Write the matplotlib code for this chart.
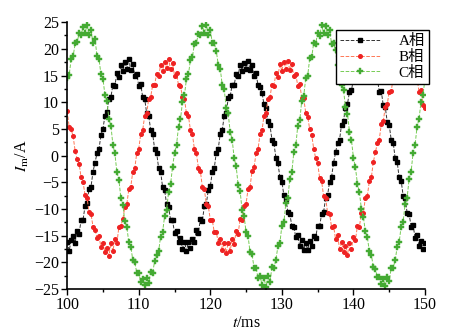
import numpy as np
import matplotlib.pyplot as plt
from matplotlib.ticker import MultipleLocator

plt.rcParams['font.family'] = ['Liberation Serif', 'Noto Sans CJK SC']
plt.rcParams['mathtext.fontset'] = 'stix'

# 采样时刻 (ms), 181 点
t = 100 + np.arange(181) * (50 / 180)

# A相电流 (A)
ia = [-16.2, -17.8, -15.9, -15.1, -16.3, -14.1, -14.6, -12.1, -12.0, -9.4, -8.9, -6.2, -5.8, -3.0, -1.3,
      0.4, 1.2, 3.9, 5.0, 7.5, 8.1, 10.6, 11.0, 13.2, 13.1, 15.4, 14.8, 16.9, 15.8, 17.6,
      16.3, 18.1, 16.0, 17.2, 15.0, 15.3, 13.1, 13.4, 10.9, 10.6, 7.9, 7.5, 4.8, 4.1, 1.2,
      0.5, -2.3, -3.0, -5.9, -6.4, -9.1, -9.6, -12.0, -12.1, -14.5, -14.1, -16.2, -15.5, -17.4, -16.1,
      -17.8, -16.2, -17.3, -15.6, -16.1, -14.0, -14.5, -11.9, -12.2, -9.5, -9.0, -6.4, -5.7, -3.1, -2.3,
      0.5, 1.3, 4.1, 4.8, 7.4, 8.0, 10.7, 11.1, 13.3, 13.2, 15.3, 15.0, 17.0, 15.9, 17.4,
      16.2, 17.7, 16.1, 17.0, 14.9, 15.4, 13.2, 12.9, 11.8, 9.6, 9.0, 6.5, 5.7, 3.0, 2.3,
      -0.4, -1.4, -4.0, -4.9, -7.4, -8.1, -10.5, -11.0, -13.1, -13.3, -15.3, -14.9, -17.0, -15.8, -17.6,
      -16.3, -17.7, -16.0, -16.9, -15.0, -15.4, -13.1, -13.2, -10.9, -10.5, -8.0, -7.4, -4.9, -4.0, -1.3,
      0.6, 2.4, 2.9, 5.8, 6.5, 9.0, 9.7, 11.9, 12.2, 14.4, 14.2, 16.1, 15.6, 17.3, 16.2,
      17.9, 16.1, 17.3, 15.5, 16.2, 13.9, 14.6, 11.9, 12.1, 9.4, 9.1, 6.3, 5.8, 2.9, 2.4,
      -0.5, -1.2, -4.1, -4.7, -7.5, -7.9, -10.7, -10.9, -13.3, -13.0, -15.4, -14.8, -16.9, -16.0, -17.5,
      -16.4]

# B相电流 (A)
ib = [8.3, 5.4, 4.9, 3.6, 0.9,
      -0.6, -1.5, -4.1, -5.0, -7.4, -7.9, -10.6, -11.0, -13.3, -13.9, -15.4, -15.1, -17.2, -16.4, -18.1,
      -17.3, -18.8, -16.4, -17.9, -15.6, -16.4, -13.4, -13.1, -11.9, -9.6, -9.1, -6.3, -5.8, -3.0, -2.4,
      0.5, 1.3, 4.0, 4.8, 7.5, 8.0, 10.6, 11.0, 13.2, 13.3, 15.3, 14.9, 17.0, 15.8, 17.5,
      16.4, 18.1, 16.2, 17.3, 15.0, 15.4, 13.2, 13.1, 10.9, 10.6,
      7.9, 7.4, 4.8, 4.0, 1.2,
      0.4, -2.3, -2.9, -5.9, -6.3, -9.1, -9.5, -12.0, -12.1, -14.4, -14.3, -16.3, -15.6, -17.6, -16.3,
      -18.2, -16.3, -17.8, -15.7, -16.6, -14.1, -14.6, -11.9, -12.0, -9.4, -9.0, -6.2, -5.8, -2.9, -2.2,
      0.4, 1.2, 4.0, 4.7, 7.5, 7.9, 10.6, 10.9, 13.3, 13.1, 15.4, 14.8, 17.1, 15.9, 17.6,
      16.2, 17.8, 16.0, 17.1, 14.9, 15.3, 13.0, 13.4, 10.8, 10.7,
      8.0, 7.3, 4.9, 3.9, 1.3,
      -0.5, -1.4, -4.2, -4.8, -7.6, -7.9, -10.7, -10.9, -13.4, -13.2, -15.6, -14.9, -17.4, -16.2, -18.0,
      -16.9, -18.6, -16.3, -17.5, -15.2, -15.8, -13.2, -13.3, -10.8, -10.7, -7.9, -7.5, -4.8, -4.1, -1.2,
      0.6, 2.3, 3.0, 5.9, 6.4, 9.1, 9.6, 12.0, 12.1, 14.5, 14.2, 16.2, 15.6, 17.4, 16.2,
      17.9, 16.3, 17.2, 15.6, 16.1, 14.0, 14.5, 11.9, 12.2, 9.5,
      8.9]

# C相电流 (A)
ic = [14.6, 15.1, 18.0, 18.6, 21.0, 21.2, 22.9, 22.6, 24.1,
      23.0, 24.4, 22.6, 23.5, 21.0, 21.9, 18.6, 18.1, 15.2, 14.4, 11.3, 10.2, 6.8, 5.6, 2.0,
      0.4, -3.1, -4.5, -7.9, -9.2, -12.3, -13.4, -16.2, -17.1, -19.5, -20.0, -21.9, -22.0, -23.6, -23.1,
      -24.3, -22.9, -23.8, -21.8, -21.9, -19.8, -18.6, -17.9, -15.2, -14.3, -11.4, -10.1, -6.9, -5.4, -2.1,
      0.5, 2.0, 5.4, 6.8, 10.1, 11.4, 14.3, 15.2, 17.9, 18.5, 20.9, 21.1, 22.8, 22.6, 24.2,
      23.0, 24.5, 22.5, 23.6, 21.0, 21.0, 19.6, 17.0, 16.3, 13.2, 12.4, 9.0, 7.9, 4.4, 3.0,
      -0.5, -2.0, -5.5, -6.7, -10.2, -11.3, -14.4, -15.1, -18.1, -18.5, -21.0, -21.0, -22.9, -22.5, -24.2,
      -22.9, -24.6, -22.6, -23.7, -20.9, -21.1, -19.5, -17.0, -16.4, -13.1, -12.5, -8.9, -8.0, -4.3, -3.1,
      0.6, 1.9, 5.6, 6.6, 10.3, 11.2, 14.5, 15.0, 18.2, 18.4, 21.1, 20.9, 23.0, 22.4, 24.4,
      23.0, 24.3, 22.6, 23.6, 20.9, 21.0, 19.7, 16.9, 16.2, 13.3, 12.3, 9.1, 7.8, 4.5, 2.9,
      -0.4, -2.2, -5.3, -6.9, -10.0, -11.5, -14.2, -15.3, -17.9, -18.6, -20.8, -21.2, -22.7, -22.8, -24.0,
      -23.1, -24.4, -22.7, -23.4, -21.1, -21.0, -19.6, -17.1, -16.2, -13.3, -12.4, -9.0, -7.9, -4.4, -3.0,
      0.5, 2.0, 5.4, 6.9, 10.1, 11.3, 14.5]

fig = plt.figure(figsize=(4.57, 3.30), dpi=100)
ax = fig.add_axes([0.147, 0.124, 0.783, 0.809])

ax.plot(t, ia, ls='--', lw=0.7, color='#333333', marker='s', ms=2.4,
        mfc='black', mec='black', label='A相')
ax.plot(t, ib, ls='--', lw=0.7, color='#ff7755', marker='o', ms=2.6,
        mfc='#ee2222', mec='#ee2222', label='B相')
ax.plot(t, ic, ls='--', lw=0.7, color='#77cc55', marker='P', ms=3.8,
        mfc='#44aa33', mec='#44aa33', mew=0.3, label='C相')

ax.set_xlim(100, 150)
ax.set_ylim(-25, 25)
ax.xaxis.set_major_locator(MultipleLocator(10))
ax.xaxis.set_minor_locator(MultipleLocator(5))
ax.yaxis.set_major_locator(MultipleLocator(5))
ax.yaxis.set_minor_locator(MultipleLocator(2.5))
ax.tick_params(which='major', direction='out', length=4, width=1, labelsize=11.5, pad=2)
ax.tick_params(which='minor', direction='out', length=2, width=1)

for s in ['top', 'right']:
    ax.spines[s].set_visible(False)
for s in ['left', 'bottom']:
    ax.spines[s].set_linewidth(1.2)

ax.set_xlabel(r'$t$/ms', fontsize=11.5, labelpad=1)
ax.set_ylabel(r'$I_\mathrm{m}$/A', fontsize=11.5, labelpad=2)

leg = ax.legend(loc='upper right', bbox_to_anchor=(437 / 457, 1 - 22 / 330),
                bbox_transform=fig.transFigure, fontsize=11, frameon=True,
                fancybox=False, edgecolor='black', framealpha=1,
                handlelength=2.6, borderpad=0.3, labelspacing=0.1, handletextpad=1.2)
leg.get_frame().set_linewidth(1.0)

fig.savefig('out.png', dpi=100)
